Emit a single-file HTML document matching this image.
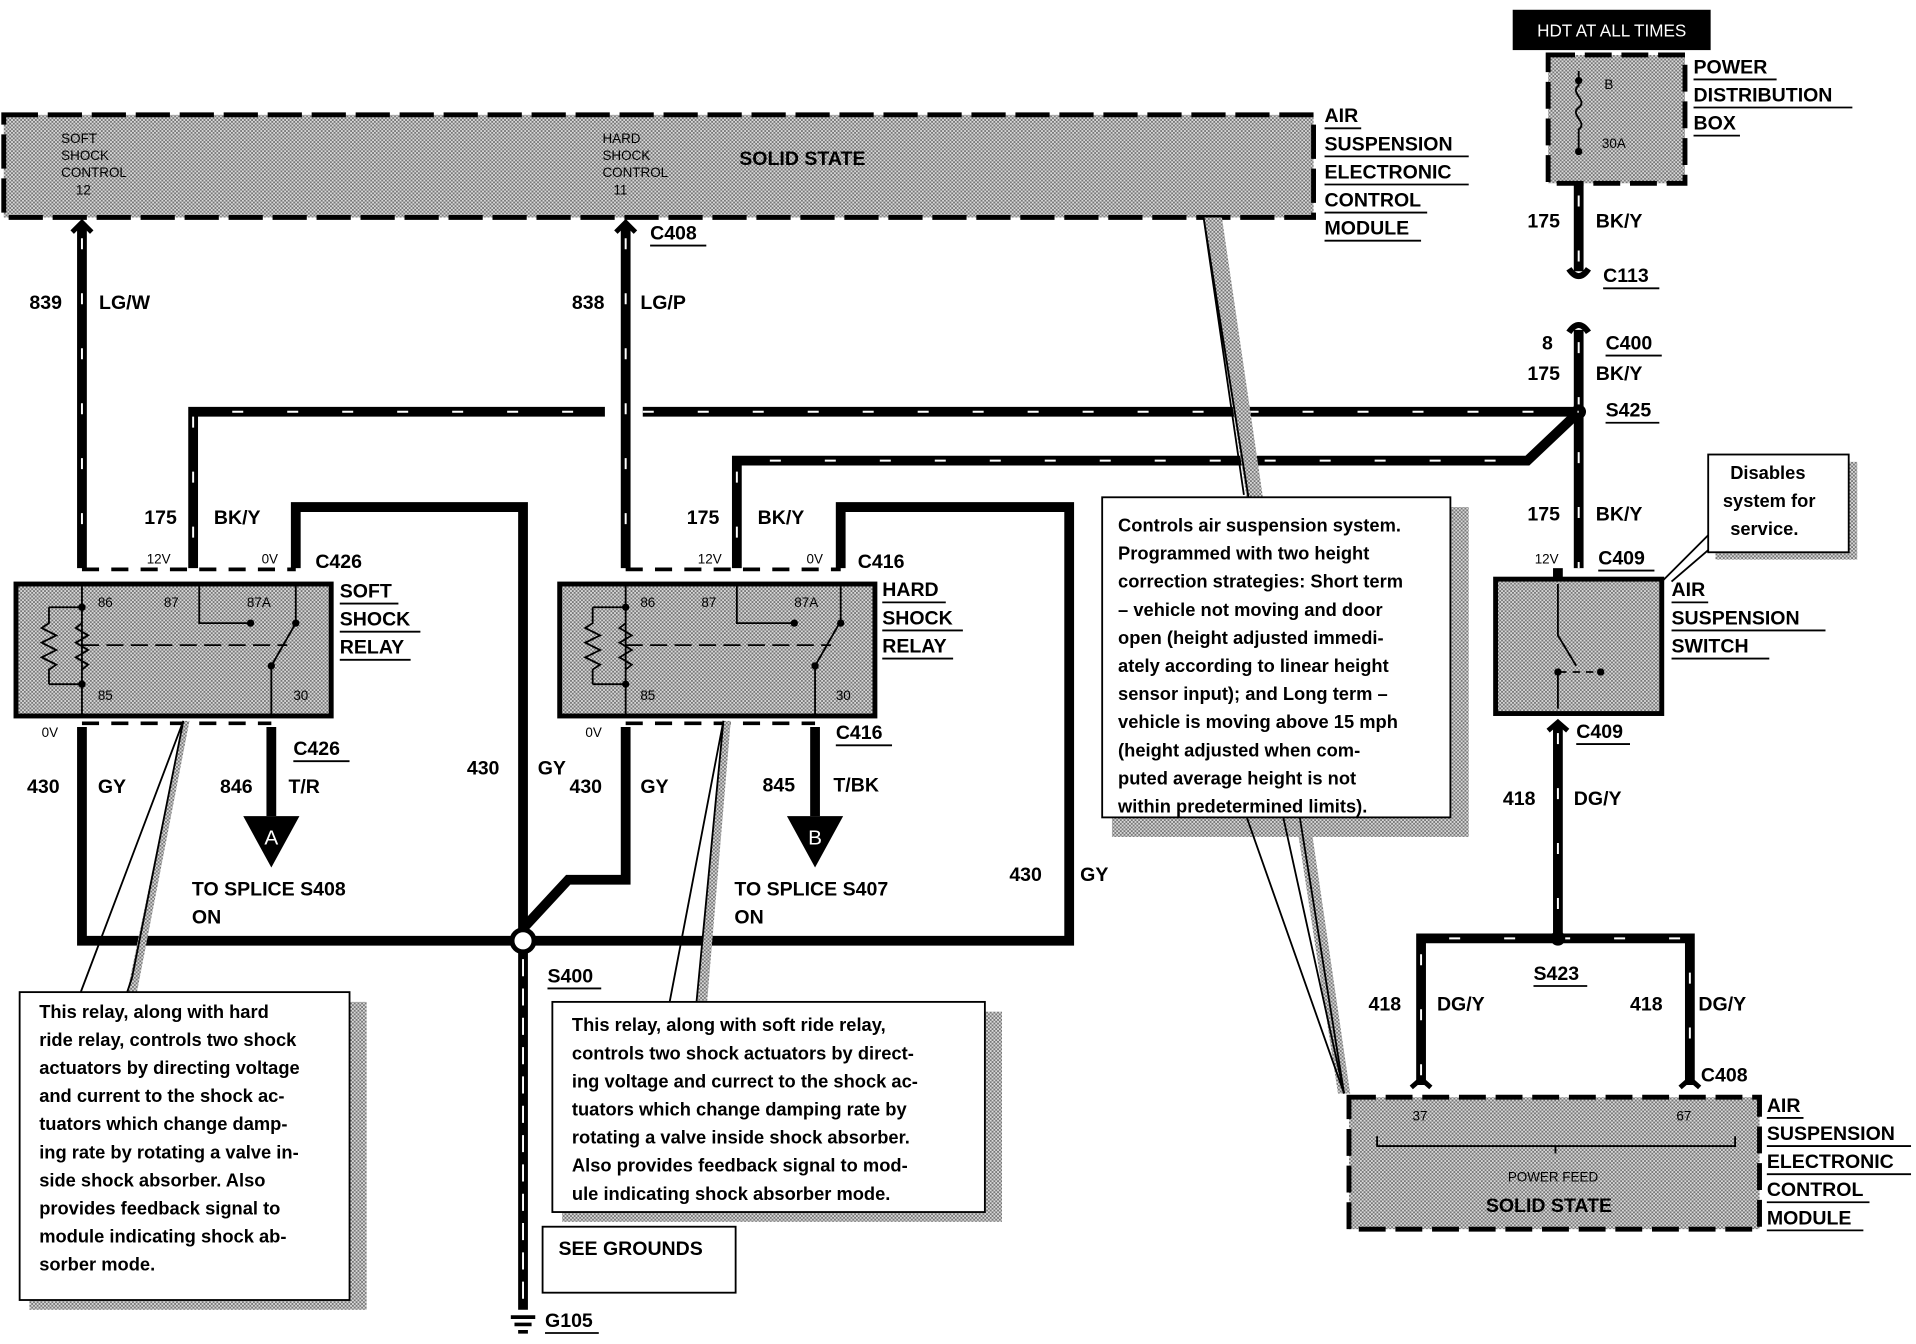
<!DOCTYPE html>
<html><head><meta charset="utf-8"><style>
html,body{margin:0;padding:0;background:#fff;}
svg{display:block}
text{font-family:"Liberation Sans",Arial,sans-serif;font-weight:bold;fill:#000}
.t{font-size:16px}
.s{font-size:11px;font-weight:normal}
.n{font-size:15px}
.w{stroke:#000;stroke-width:8;fill:none}
.tk{stroke:#fff;stroke-width:1.6;fill:none;stroke-dasharray:9 36}
.thin{stroke:#000;stroke-width:1.5;fill:none}
</style></head><body>
<svg width="1916" height="1344" viewBox="0 0 1568 1100" xmlns="http://www.w3.org/2000/svg">
<defs>
<pattern id="st" width="3" height="3" patternUnits="userSpaceOnUse">
<rect width="3" height="3" fill="#d8d8d8"/><rect width="1.5" height="1.5" fill="#777"/><rect x="1.5" y="1.5" width="1.5" height="1.5" fill="#777"/>
</pattern>
</defs>
<!-- top module -->
<rect x="3" y="94" width="1072" height="84" fill="url(#st)" stroke="#000" stroke-width="4" stroke-dasharray="28 8"/>
<text class="s" x="50" y="117">SOFT</text><text class="s" x="50" y="131">SHOCK</text><text class="s" x="50" y="145">CONTROL</text><text class="s" x="62" y="159">12</text>
<text class="s" x="493" y="117">HARD</text><text class="s" x="493" y="131">SHOCK</text><text class="s" x="493" y="145">CONTROL</text><text class="s" x="502" y="159">11</text>
<text class="t" x="605" y="135">SOLID STATE</text>
<g class="t"><text x="1084" y="100">AIR</text><text x="1084" y="123">SUSPENSION</text><text x="1084" y="146">ELECTRONIC</text><text x="1084" y="169">CONTROL</text><text x="1084" y="192">MODULE</text></g>
<g class="thin"><line x1="1084" y1="105" x2="1114" y2="105"/><line x1="1084" y1="128" x2="1202" y2="128"/><line x1="1084" y1="151" x2="1202" y2="151"/><line x1="1084" y1="174" x2="1168" y2="174"/><line x1="1084" y1="197" x2="1163" y2="197"/></g>

<!-- HOT box / power dist -->
<rect x="1238" y="8" width="162" height="33" fill="#000"/>
<text x="1319" y="30" text-anchor="middle" style="fill:#fff;font-size:14px;font-weight:normal">HDT AT ALL TIMES</text>
<rect x="1267" y="45" width="112" height="105" fill="url(#st)" stroke="#000" stroke-width="4" stroke-dasharray="22 8"/>
<text class="s" x="1313" y="73">B</text><text class="s" x="1311" y="121">30A</text>
<path d="M1292 58 v12 c-8 6 8 12 0 18 c-8 6 8 12 0 18 v18" class="thin"/>
<circle cx="1292" cy="66" r="3"/><circle cx="1292" cy="124" r="3"/>
<g class="t"><text x="1386" y="60">POWER</text><text x="1386" y="83">DISTRIBUTION</text><text x="1386" y="106">BOX</text></g>
<g class="thin"><line x1="1386" y1="65" x2="1454" y2="65"/><line x1="1386" y1="88" x2="1516" y2="88"/><line x1="1386" y1="111" x2="1424" y2="111"/></g>

<!-- right vertical BK/Y -->
<path class="w" d="M1292 150 V222 M1292 270 V465"/>
<path d="M1284 220 q8 12 16 0 M1284 272 q8 -12 16 0" class="w" style="stroke-width:5"/>
<path class="tk" d="M1292 160 V215 M1292 280 V465"/>
<circle cx="1292" cy="337" r="6"/>
<text class="t" x="1250" y="186">175</text><text class="t" x="1306" y="186">BK/Y</text>
<text class="t" x="1312" y="231">C113</text><line class="thin" x1="1312" y1="236" x2="1358" y2="236"/>
<text class="t" x="1262" y="286">8</text><text class="t" x="1314" y="286">C400</text><line class="thin" x1="1314" y1="291" x2="1360" y2="291"/>
<text class="t" x="1250" y="311">175</text><text class="t" x="1306" y="311">BK/Y</text>
<text class="t" x="1314" y="341">S425</text><line class="thin" x1="1314" y1="346" x2="1358" y2="346"/>
<text class="t" x="1250" y="426">175</text><text class="t" x="1306" y="426">BK/Y</text>
<text class="s" x="1256" y="461">12V</text><text class="t" x="1308" y="462">C409</text><line class="thin" x1="1308" y1="467" x2="1354" y2="467"/>

<!-- BK/Y horizontal buses -->
<path class="w" d="M158 465 V337 H495 M526 337 H1292"/>
<path class="tk" d="M158 440 V337 H495 M526 337 H1292"/>
<path class="w" d="M603 465 V377 H1250 L1288 341"/>
<path class="tk" d="M603 440 V377 H1250"/>

<!-- module wires 839/838 -->
<path class="w" d="M67 184 V465"/><path class="tk" d="M67 195 V465"/>
<path class="w" d="M512 184 V465"/><path class="tk" d="M512 195 V465"/>
<path d="M59 190 l8 -8 l8 8 M504 190 l8 -8 l8 8" class="w" style="stroke-width:4"/>
<text class="t" x="24" y="253">839</text><text class="t" x="81" y="253">LG/W</text>
<text class="t" x="468" y="253">838</text><text class="t" x="524" y="253">LG/P</text>
<text class="t" x="532" y="196">C408</text><line class="thin" x1="532" y1="201" x2="578" y2="201"/>

<!-- GY loop -->
<path class="w" d="M242 465 V415 H428 V770"/>
<path class="w" d="M67 595 V770 H875 V415 H688 V465"/>
<path class="w" d="M512 595 V720 H465 L428 760"/>
<path class="w" d="M428 770 V1072"/><path class="tk" style="stroke-dasharray:14 10" d="M428 785 V1072"/>
<circle cx="428" cy="770" r="9" fill="#fff" stroke="#000" stroke-width="4"/>
<path d="M418 1078 h20 M421 1084 h14 M424 1090 h8" class="thin" style="stroke-width:3"/>
<text class="t" x="446" y="1086">G105</text><line class="thin" x1="446" y1="1091" x2="490" y2="1091"/>
<text class="t" x="448" y="804">S400</text><line class="thin" x1="448" y1="809" x2="492" y2="809"/>

<!-- soft relay -->
<path d="M67 466 H242" stroke="#000" stroke-width="3" stroke-dasharray="14 10"/>
<path d="M67 592 H222" stroke="#000" stroke-width="3" stroke-dasharray="14 10"/>
<rect x="13" y="478" width="258" height="108" fill="url(#st)" stroke="#000" stroke-width="4"/>
<text class="s" x="120" y="461">12V</text><text class="s" x="214" y="461">0V</text>
<text class="t" x="118" y="429">175</text><text class="t" x="175" y="429">BK/Y</text>
<text class="t" x="258" y="465">C426</text>
<text class="s" x="80" y="497">86</text><text class="s" x="134" y="497">87</text><text class="s" x="202" y="497">87A</text>
<text class="s" x="80" y="573">85</text><text class="s" x="240" y="573">30</text>
<path class="thin" d="M67 480 V586 M40 497 H67 M40 560 H67 M40 497 V510 l-6 4 l12 6 l-12 6 l12 6 l-12 6 l12 6 l-6 4 V560 M67 510 l-5 4 l10 6 l-10 6 l10 6 l-10 6 l10 6 l-5 4 M163 480 V510 H205 M242 480 V510 M222 586 V545 l20 -35" />
<path d="M67 528 H235" stroke="#000" stroke-width="1.5" stroke-dasharray="14 6"/>
<circle cx="205" cy="510" r="3"/><circle cx="242" cy="510" r="3"/><circle cx="222" cy="545" r="3"/><circle cx="67" cy="497" r="3"/><circle cx="67" cy="560" r="3"/>
<text class="s" x="34" y="603">0V</text>
<g class="t"><text x="278" y="489">SOFT</text><text x="278" y="512">SHOCK</text><text x="278" y="535">RELAY</text></g>
<g class="thin"><line x1="278" y1="494" x2="326" y2="494"/><line x1="278" y1="517" x2="344" y2="517"/><line x1="278" y1="540" x2="336" y2="540"/></g>
<path class="w" d="M222 595 V668"/>
<polygon points="199,668 245,668 222,710" fill="#000"/><text x="222" y="691" text-anchor="middle" style="fill:#fff;font-size:17px;font-weight:normal">A</text>
<text class="t" x="240" y="618">C426</text><line class="thin" x1="240" y1="623" x2="286" y2="623"/>
<text class="t" x="180" y="649">846</text><text class="t" x="236" y="649">T/R</text>
<text class="t" x="22" y="649">430</text><text class="t" x="80" y="649">GY</text>
<text class="t" x="382" y="634">430</text><text class="t" x="440" y="634">GY</text>
<text class="t" x="157" y="733">TO SPLICE S408</text><text class="t" x="157" y="756">ON</text>

<!-- hard relay -->
<path d="M512 466 H688" stroke="#000" stroke-width="3" stroke-dasharray="14 10"/>
<path d="M512 592 H667" stroke="#000" stroke-width="3" stroke-dasharray="14 10"/>
<rect x="458" y="478" width="258" height="108" fill="url(#st)" stroke="#000" stroke-width="4"/>
<text class="s" x="571" y="461">12V</text><text class="s" x="660" y="461">0V</text>
<text class="t" x="562" y="429">175</text><text class="t" x="620" y="429">BK/Y</text>
<text class="t" x="702" y="465">C416</text>
<text class="s" x="524" y="497">86</text><text class="s" x="574" y="497">87</text><text class="s" x="650" y="497">87A</text>
<text class="s" x="524" y="573">85</text><text class="s" x="684" y="573">30</text>
<path class="thin" d="M512 480 V586 M485 497 H512 M485 560 H512 M485 497 V510 l-6 4 l12 6 l-12 6 l12 6 l-12 6 l12 6 l-6 4 V560 M512 510 l-5 4 l10 6 l-10 6 l10 6 l-10 6 l10 6 l-5 4 M603 480 V510 H650 M688 480 V510 M667 586 V545 l20 -35"/>
<path d="M512 528 H680" stroke="#000" stroke-width="1.5" stroke-dasharray="14 6"/>
<circle cx="650" cy="510" r="3"/><circle cx="688" cy="510" r="3"/><circle cx="667" cy="545" r="3"/><circle cx="512" cy="497" r="3"/><circle cx="512" cy="560" r="3"/>
<text class="s" x="479" y="603">0V</text>
<g class="t"><text x="722" y="488">HARD</text><text x="722" y="511">SHOCK</text><text x="722" y="534">RELAY</text></g>
<g class="thin"><line x1="722" y1="493" x2="774" y2="493"/><line x1="722" y1="516" x2="788" y2="516"/><line x1="722" y1="539" x2="780" y2="539"/></g>
<path class="w" d="M667 595 V668"/>
<polygon points="644,668 690,668 667,710" fill="#000"/><text x="667" y="691" text-anchor="middle" style="fill:#fff;font-size:17px;font-weight:normal">B</text>
<text class="t" x="684" y="605">C416</text><line class="thin" x1="684" y1="610" x2="730" y2="610"/>
<text class="t" x="624" y="648">845</text><text class="t" x="682" y="648">T/BK</text>
<text class="t" x="466" y="649">430</text><text class="t" x="524" y="649">GY</text>
<text class="t" x="826" y="721">430</text><text class="t" x="884" y="721">GY</text>
<text class="t" x="601" y="733">TO SPLICE S407</text><text class="t" x="601" y="756">ON</text>

<!-- callouts -->
<rect x="24" y="820" width="276" height="252" fill="url(#st)"/>
<polygon points="150,590 155,590 112,812 104,812" fill="url(#st)"/>
<path class="thin" d="M150 590 L66 812 M150 590 L108 800 L104 812"/>
<rect x="16" y="812" width="270" height="252" fill="#fff" stroke="#000" stroke-width="1.5"/>
<g class="n"><text x="32" y="833">This relay, along with hard</text><text x="32" y="856">ride relay, controls two shock</text><text x="32" y="879">actuators by directing voltage</text><text x="32" y="902">and current to the shock ac-</text><text x="32" y="925">tuators which change damp-</text><text x="32" y="948">ing rate by rotating a valve in-</text><text x="32" y="971">side shock absorber.  Also</text><text x="32" y="994">provides feedback signal to</text><text x="32" y="1017">module indicating shock ab-</text><text x="32" y="1040">sorber mode.</text></g>

<rect x="460" y="828" width="360" height="172" fill="url(#st)"/>
<polygon points="592,590 598,590 578,828 570,828" fill="url(#st)"/>
<path class="thin" d="M592 590 L548 820 M592 590 L570 820"/>
<rect x="452" y="820" width="354" height="172" fill="#fff" stroke="#000" stroke-width="1.5"/>
<g class="n"><text x="468" y="844">This relay, along with soft ride relay,</text><text x="468" y="867">controls two shock actuators by direct-</text><text x="468" y="890">ing voltage and currect to the shock ac-</text><text x="468" y="913">tuators which change damping rate by</text><text x="468" y="936">rotating a valve inside shock absorber.</text><text x="468" y="959">Also provides feedback signal to mod-</text><text x="468" y="982">ule indicating shock absorber mode.</text></g>

<rect x="444" y="1004" width="158" height="54" fill="#fff" stroke="#000" stroke-width="1.5"/>
<text class="t" x="457" y="1027">SEE GROUNDS</text>

<!-- big callout -->
<rect x="910" y="415" width="292" height="270" fill="url(#st)"/>
<polygon points="985,178 1000,178 1105,895 1095,895" fill="url(#st)"/>
<path class="thin" d="M985 178 L1018 405 M985 178 L1100 895"/>
<path class="thin" d="M1020 668 L1100 895 M1050 668 L1100 895"/>
<rect x="902" y="407" width="285" height="262" fill="#fff" stroke="#000" stroke-width="1.5"/>
<g class="n"><text x="915" y="435">Controls air suspension system.</text><text x="915" y="458">Programmed with two height</text><text x="915" y="481">correction strategies: Short term</text><text x="915" y="504">– vehicle not moving and door</text><text x="915" y="527">open (height adjusted immedi-</text><text x="915" y="550">ately according to linear height</text><text x="915" y="573">sensor input); and Long term –</text><text x="915" y="596">vehicle is moving above 15 mph</text><text x="915" y="619">(height adjusted when com-</text><text x="915" y="642">puted average height is not</text><text x="915" y="665">within predetermined limits).</text></g>

<rect x="1404" y="378" width="116" height="80" fill="url(#st)"/>
<path class="thin" d="M1400 436 L1360 476 M1410 440 L1368 476"/>
<rect x="1398" y="372" width="115" height="80" fill="#fff" stroke="#000" stroke-width="1.5"/>
<g class="n"><text x="1416" y="392">Disables</text><text x="1410" y="415">system for</text><text x="1416" y="438">service.</text></g>

<!-- air susp switch -->
<path class="w" d="M1275 465 V474"/>
<rect x="1224" y="474" width="136" height="110" fill="url(#st)" stroke="#000" stroke-width="4"/>
<path class="thin" d="M1275 478 V520 L1290 545 M1275 580 V550"/>
<path d="M1276 550 H1308" stroke="#000" stroke-width="1.5" stroke-dasharray="6 5"/>
<circle cx="1275" cy="550" r="3"/><circle cx="1310" cy="550" r="3"/>
<g class="t"><text x="1368" y="488">AIR</text><text x="1368" y="511">SUSPENSION</text><text x="1368" y="534">SWITCH</text></g>
<g class="thin"><line x1="1368" y1="493" x2="1398" y2="493"/><line x1="1368" y1="516" x2="1494" y2="516"/><line x1="1368" y1="539" x2="1448" y2="539"/></g>
<path class="w" d="M1275 592 V768"/><path class="tk" d="M1275 600 V768"/>
<path d="M1267 598 l8 -7 l8 7" class="w" style="stroke-width:4"/>
<text class="t" x="1290" y="604">C409</text><line class="thin" x1="1290" y1="609" x2="1334" y2="609"/>
<text class="t" x="1230" y="659">418</text><text class="t" x="1288" y="659">DG/Y</text>
<path class="w" d="M1163 888 V768 H1383 V888"/><path class="tk" d="M1163 880 V768 H1383 V880"/>
<circle cx="1275" cy="768" r="6"/>
<text class="t" x="1255" y="802">S423</text><line class="thin" x1="1255" y1="807" x2="1299" y2="807"/>
<text class="t" x="1120" y="827">418</text><text class="t" x="1176" y="827">DG/Y</text>
<text class="t" x="1334" y="827">418</text><text class="t" x="1390" y="827">DG/Y</text>
<text class="t" x="1392" y="885">C408</text>
<path d="M1155 890 l8 -7 l8 7 M1375 890 l8 -7 l8 7" class="w" style="stroke-width:4"/>
<rect x="1104" y="898" width="336" height="108" fill="url(#st)" stroke="#000" stroke-width="4" stroke-dasharray="22 8"/>
<text class="s" x="1156" y="917">37</text><text class="s" x="1372" y="917">67</text>
<path class="thin" d="M1127 930 v8 H1420 v-8 M1273 938 v6"/>
<text class="s" x="1234" y="967">POWER FEED</text>
<text class="t" x="1216" y="992">SOLID STATE</text>
<g class="t"><text x="1446" y="910">AIR</text><text x="1446" y="933">SUSPENSION</text><text x="1446" y="956">ELECTRONIC</text><text x="1446" y="979">CONTROL</text><text x="1446" y="1002">MODULE</text></g>
<g class="thin"><line x1="1446" y1="915" x2="1476" y2="915"/><line x1="1446" y1="938" x2="1564" y2="938"/><line x1="1446" y1="961" x2="1564" y2="961"/><line x1="1446" y1="984" x2="1530" y2="984"/><line x1="1446" y1="1007" x2="1525" y2="1007"/></g>
</svg>
</body></html>
